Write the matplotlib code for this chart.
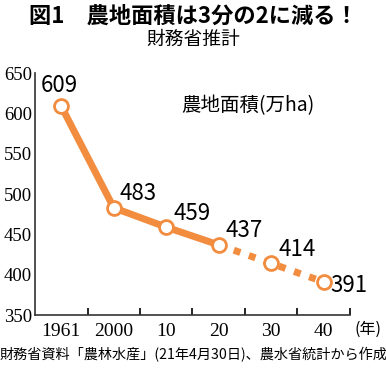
import matplotlib.pyplot as plt

plt.rcParams['font.family'] = ['Noto Sans CJK JP', 'DejaVu Sans']

years = ['1961', '2000', '10', '20', '30', '40']
area = [609, 483, 459, 437, 414, 391]
n_actual = 4  # 1961~2020 実績, 以降は推計

orange = '#F28C3F'

fig = plt.figure(figsize=(3.86, 3.68), dpi=100)
ax = fig.add_axes([0.0907, 0.144, 0.816, 0.657])

x = list(range(len(years)))
ax.plot(x[:n_actual], area[:n_actual], color=orange, lw=5, solid_capstyle='butt', zorder=2)
ax.plot(x[n_actual - 1:], area[n_actual - 1:], color=orange, lw=5, ls=(0, (1.0, 1.3)), zorder=2)
ax.plot(x, area, 'o', ms=10, mfc='white', mec=orange, mew=2, zorder=3)

# 数値ラベル
offs = [(-0.4, 11), (0.1, 3), (0.13, 3), (0.13, 3), (0.13, 3), (0.12, -4)]
for i, v in enumerate(area):
    dx, dy = offs[i]
    va = 'bottom' if i < 5 else 'center'
    ax.text(i + dx, v + dy, str(v), fontsize=16, ha='left', va=va)

ax.set_xlim(-0.5, 5.5)
ax.set_ylim(350, 650)
ax.set_yticks([350, 400, 450, 500, 550, 600, 650])
ax.set_xticks(x)
ax.set_xticklabels(years, family='Liberation Serif', fontsize=14)
ax.set_xticks([i + 0.5 for i in range(len(years))], minor=True)
ax.tick_params(axis='x', which='major', length=0, pad=6)
ax.tick_params(axis='x', which='minor', direction='in', length=5, width=1.2)
ax.tick_params(axis='y', length=0, pad=2, labelsize=13.5)
for lb in ax.get_yticklabels():
    lb.set_family('Liberation Serif')

for s in ['top', 'right']:
    ax.spines[s].set_visible(False)
for s in ['left', 'bottom']:
    ax.spines[s].set_linewidth(1.2)
    ax.spines[s].set_color('#333333')

ax.text(5.58, 332, '(年)', fontsize=11.5, clip_on=False, va='center', ha='left')
ax.text(3.55, 610, '農地面積(万ha)', fontsize=14, ha='center', va='center')

fig.text(0.5, 0.955, '図1　農地面積は3分の2に減る！', ha='center', va='center', fontsize=16, weight='bold')
fig.text(0.5, 0.893, '財務省推計', ha='center', va='center', fontsize=13.5)
fig.text(0.5, 0.035, '財務省資料「農林水産」(21年4月30日)、農水省統計から作成',
         ha='center', va='center', fontsize=10.2)

fig.savefig('out.png', dpi=100)
